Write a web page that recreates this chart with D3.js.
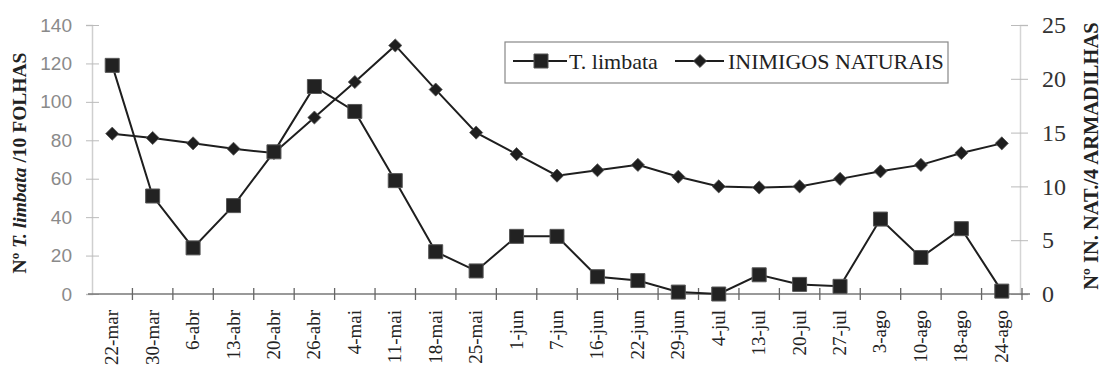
<!doctype html>
<html>
<head>
  <meta charset="utf-8">
  <title>T. limbata e inimigos naturais</title>
  <script src="https://d3js.org/d3.v7.min.js"></script>
  <style>
    body { margin: 0; background: #fff; }
    #chart { display: block; }
    .lbl-left { font-family: "Liberation Sans", Arial, sans-serif; font-size: 19px; fill: #8a8a8a; }
    .lbl-right { font-family: "Liberation Serif", "Times New Roman", serif; font-size: 24px; fill: #333; }
    .lbl-x { font-family: "Liberation Serif", "Times New Roman", serif; font-size: 19px; fill: #222; }
    .title { font-family: "Liberation Serif", "Times New Roman", serif; font-weight: bold; fill: #222; }
    .legend { font-family: "Liberation Serif", "Times New Roman", serif; font-size: 22px; fill: #222; }
  </style>
</head>
<body>
  <svg id="chart" width="1103" height="374"></svg>
  <script>
    // data
    var dates = ["22-mar", "30-mar", "6-abr", "13-abr", "20-abr", "26-abr", "4-mai", "11-mai",
      "18-mai", "25-mai", "1-jun", "7-jun", "16-jun", "22-jun", "29-jun", "4-jul", "13-jul",
      "20-jul", "27-jul", "3-ago", "10-ago", "18-ago", "24-ago"];
    var limbata = [119, 51, 24, 46, 74, 108, 95, 59, 22, 12, 30, 30, 9, 7, 1, 0, 10, 5, 4, 39, 19, 34, 1.5];
    var inimigos = [14.9, 14.5, 14.0, 13.5, 13.1, 16.4, 19.7, 23.1, 19.0, 15.0, 13.0, 11.0, 11.5, 12.0,
      10.9, 10.0, 9.9, 10.0, 10.7, 11.4, 12.0, 13.1, 14.0];
    var leftTicks = [0, 20, 40, 60, 80, 100, 120, 140];
    var rightTicks = [0, 5, 10, 15, 20, 25];

    var svg = d3.select("#chart");

    var x = d3.scaleBand().domain(dates).range([92, 1022]).paddingInner(0).paddingOuter(0);
    var yL = d3.scaleLinear().domain([0, 140]).range([294, 25]);
    var yR = d3.scaleLinear().domain([0, 25]).range([294, 25]);
    function cx(d) { return x(d) + x.bandwidth() / 2; }

    // left axis
    var gl = svg.append("g").attr("transform", "translate(92,0)");
    gl.call(d3.axisLeft(yL).tickValues(leftTicks).tickSize(6).tickPadding(14));
    gl.select(".domain").attr("stroke", "#cfcfcf").attr("stroke-width", 1.5);
    gl.selectAll(".tick line").attr("stroke", "#bbb").attr("x2", 7).attr("x1", -6);
    gl.selectAll(".tick text").attr("class", "lbl-left").attr("font-size", null).attr("font-family", null)
      .attr("fill", function(d) { return d === 0 ? "#555" : null; });

    // right axis
    var gr = svg.append("g").attr("transform", "translate(1020,0)");
    gr.call(d3.axisRight(yR).tickValues(rightTicks).tickSize(8).tickPadding(14));
    gr.select(".domain").attr("stroke", "#d5d5d5").attr("stroke-width", 1.5);
    gr.selectAll(".tick line").attr("stroke", "#bbb").attr("x1", -9);
    gr.selectAll(".tick text").attr("class", "lbl-right").attr("font-size", null).attr("font-family", null);

    // x axis with ticks on the band edges
    var gx = svg.append("g");
    gx.append("line").attr("x1", 88).attr("x2", 1030).attr("y1", yL(0)).attr("y2", yL(0))
      .attr("stroke", "#777").attr("stroke-width", 1.5);
    gx.selectAll(".xt").data(dates).enter().append("line")
      .attr("x1", function(d) { return x(d) + x.bandwidth(); })
      .attr("x2", function(d) { return x(d) + x.bandwidth(); })
      .attr("y1", yL(0) - 6).attr("y2", yL(0) + 6)
      .attr("stroke", "#666").attr("stroke-width", 1.3);
    gx.selectAll(".xl").data(dates).enter().append("text")
      .attr("class", "lbl-x")
      .attr("text-anchor", "end")
      .attr("transform", function(d) { return "translate(" + (cx(d) + 6) + "," + (yL(0) + 16) + ")rotate(-90)"; })
      .text(function(d) { return d; });

    // axis titles
    var tl = svg.append("text").attr("class", "title").attr("font-size", 19.5).attr("text-anchor", "middle")
      .attr("transform", "translate(26,163)rotate(-90)");
    tl.append("tspan").text("Nº ");
    tl.append("tspan").attr("font-style", "italic").text("T. limbata");
    tl.append("tspan").text(" /10 FOLHAS");
    svg.append("text").attr("class", "title").attr("font-size", 20.5).attr("text-anchor", "middle")
      .attr("transform", "translate(1098,156)rotate(-90)")
      .text("Nº IN. NAT./4 ARMADILHAS");

    // series
    var lineL = d3.line().x(function(d, i) { return cx(dates[i]); }).y(function(d) { return yL(d); });
    var lineR = d3.line().x(function(d, i) { return cx(dates[i]); }).y(function(d) { return yR(d); });
    svg.append("path").datum(inimigos).attr("d", lineR).attr("fill", "none").attr("stroke", "#1e1e1e").attr("stroke-width", 2);
    svg.append("path").datum(limbata).attr("d", lineL).attr("fill", "none").attr("stroke", "#1e1e1e").attr("stroke-width", 2);

    var sq = d3.symbol().type(d3.symbolSquare).size(196);
    var dm = d3.symbol().type(d3.symbolDiamond2).size(110);

    svg.selectAll(".dm").data(inimigos).enter().append("path")
      .attr("d", dm)
      .attr("transform", function(d, i) { return "translate(" + cx(dates[i]) + "," + yR(d) + ")"; })
      .attr("fill", "#1e1e1e").attr("stroke", "#555").attr("stroke-width", 0.8);
    svg.selectAll(".sq").data(limbata).enter().append("path")
      .attr("d", sq)
      .attr("transform", function(d, i) { return "translate(" + cx(dates[i]) + "," + yL(d) + ")"; })
      .attr("fill", "#222").attr("stroke", "#555").attr("stroke-width", 1);

    // legend
    var lg = svg.append("g");
    lg.append("rect").attr("x", 505).attr("y", 42).attr("width", 443).attr("height", 41)
      .attr("fill", "#fff").attr("stroke", "#888").attr("stroke-width", 1.2);
    lg.append("line").attr("x1", 513).attr("x2", 567).attr("y1", 61).attr("y2", 61).attr("stroke", "#1e1e1e").attr("stroke-width", 2);
    lg.append("path").attr("d", sq).attr("transform", "translate(541,61)").attr("fill", "#222").attr("stroke", "#555");
    lg.append("text").attr("class", "legend").attr("x", 569).attr("y", 69).text("T. limbata");
    lg.append("line").attr("x1", 675).attr("x2", 724).attr("y1", 61).attr("y2", 61).attr("stroke", "#1e1e1e").attr("stroke-width", 2);
    lg.append("path").attr("d", dm).attr("transform", "translate(700,61)").attr("fill", "#1e1e1e").attr("stroke", "#555").attr("stroke-width", 0.8);
    lg.append("text").attr("class", "legend").attr("x", 728).attr("y", 69).text("INIMIGOS NATURAIS");
  </script>
</body>
</html>
